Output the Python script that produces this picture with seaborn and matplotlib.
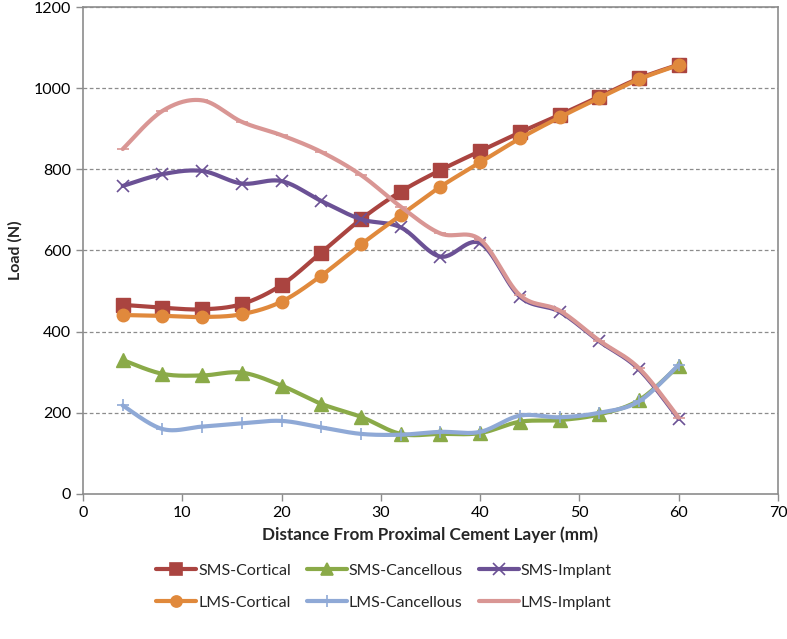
import matplotlib
matplotlib.use('Agg')
import matplotlib.pyplot as plt
from matplotlib.lines import Line2D
import numpy as np
import pandas as pd
import seaborn as sns

distance = [4, 8, 12, 16, 20, 24, 28, 32, 36, 40, 44, 48, 52, 56, 60]

sms_cortical = [466, 459, 455, 468, 515, 595, 677, 745, 798, 845, 891, 934, 979, 1024, 1058]
lms_cortical = [441, 439, 436, 443, 474, 538, 615, 687, 757, 817, 876, 928, 976, 1022, 1057]
sms_cancellous = [330, 296, 292, 299, 267, 222, 190, 148, 148, 150, 178, 182, 196, 231, 316]
lms_cancellous = [218, 160, 166, 174, 180, 164, 148, 146, 153, 153, 193, 189, 200, 228, 318]
sms_implant = [759, 788, 796, 765, 771, 722, 677, 657, 585, 618, 486, 449, 376, 307, 185]
lms_implant = [850, 944, 970, 917, 884, 843, 786, 708, 642, 627, 490, 452, 378, 310, 188]

series = ['SMS-Cortical', 'SMS-Cancellous', 'SMS-Implant',
          'LMS-Cortical', 'LMS-Cancellous', 'LMS-Implant']
values = [sms_cortical, sms_cancellous, sms_implant,
          lms_cortical, lms_cancellous, lms_implant]
colors = ['#AA4440', '#8AAA48', '#6B5195', '#E0893C', '#8FA9D6', '#D99694']
markers = ['s', '^', 'x', 'o', '+', '_']
msizes = [9.5, 9.5, 9, 9, 9, 9]


def smooth(x, y, n=30):
    # Excel-like smoothed line: bezier segments with catmull-rom control points
    x = np.asarray(x, float)
    y = np.asarray(y, float)
    px = np.concatenate([[x[0]], x, [x[-1]]])
    py = np.concatenate([[y[0]], y, [y[-1]]])
    xs, ys = [], []
    t = np.linspace(0, 1, n)
    for i in range(1, len(px) - 2):
        p0 = np.array([px[i - 1], py[i - 1]])
        p1 = np.array([px[i], py[i]])
        p2 = np.array([px[i + 1], py[i + 1]])
        p3 = np.array([px[i + 2], py[i + 2]])
        c1 = p1 + (p2 - p0) / 6
        c2 = p2 - (p3 - p1) / 6
        pts = ((1 - t) ** 3)[:, None] * p1 + (3 * (1 - t) ** 2 * t)[:, None] * c1 \
            + (3 * (1 - t) * t ** 2)[:, None] * c2 + (t ** 3)[:, None] * p2
        xs.extend(pts[:, 0])
        ys.extend(pts[:, 1])
    return np.array(xs), np.array(ys)


rows = []
for name, vals in zip(series, values):
    sx, sy = smooth(distance, vals)
    for k, (a, b) in enumerate(zip(sx, sy)):
        rows.append({'series': name, 'order': k, 'x': a, 'y': b})
curves = pd.DataFrame(rows)

points = pd.DataFrame([{'series': name, 'x': d, 'y': v}
                       for name, vals in zip(series, values)
                       for d, v in zip(distance, vals)])

sns.set_style('white')
plt.rcParams['font.family'] = ['Lato', 'DejaVu Sans']

fig = plt.figure(figsize=(7.87, 6.39), dpi=100)
ax = fig.add_axes([0.1055, 0.227, 0.883, 0.762])

ax.set_ylim(0, 1200)
ax.set_xlim(0, 70)
ax.set_yticks(range(0, 1201, 200))
ax.set_xticks(range(0, 71, 10))
for yv in range(200, 1201, 200):
    ax.axhline(yv, color='#8C8C8C', lw=0.9, ls=(0, (3, 2)), zorder=0)

draw_order = [0, 3, 1, 4, 2, 5]
for i in draw_order:
    name = series[i]
    sns.lineplot(data=curves[curves.series == name], x='x', y='y', sort=False,
                 color=colors[i], lw=3, ax=ax, zorder=2 + i * 0.1,
                 estimator=None)
    sub = points[points.series == name]
    ax.plot(sub.x, sub.y, ls='none', marker=markers[i], ms=msizes[i],
            color=colors[i], mec=colors[i], mew=1.2 if markers[i] in 'x+_' else 1,
            zorder=2.05 + i * 0.1)

for s in ax.spines.values():
    s.set_color('#8C8C8C')
    s.set_linewidth(1.2)
ax.tick_params(axis='both', direction='out', length=5, width=1, color='#8C8C8C',
               labelsize=11.5, labelcolor='black', left=True, bottom=True)
ax.set_xlabel('Distance From Proximal Cement Layer (mm)', fontsize=12.3,
              fontweight='bold', labelpad=5)
ax.set_ylabel('Load (N)', fontsize=11.5, fontweight='bold', labelpad=8)

handles = []
for i in [0, 3, 1, 4, 2, 5]:
    handles.append(Line2D([], [], color=colors[i], lw=3, marker=markers[i],
                          ms=msizes[i] - 1, mec=colors[i], mew=1.2,
                          label=series[i]))
fig.legend(handles=handles, loc='center', bbox_to_anchor=(0.488, 0.082), ncol=3,
           frameon=False, fontsize=11.5, handlelength=2.5, handletextpad=0.12,
           columnspacing=1.0, labelspacing=1.1)

fig.savefig('out.png', dpi=100)
